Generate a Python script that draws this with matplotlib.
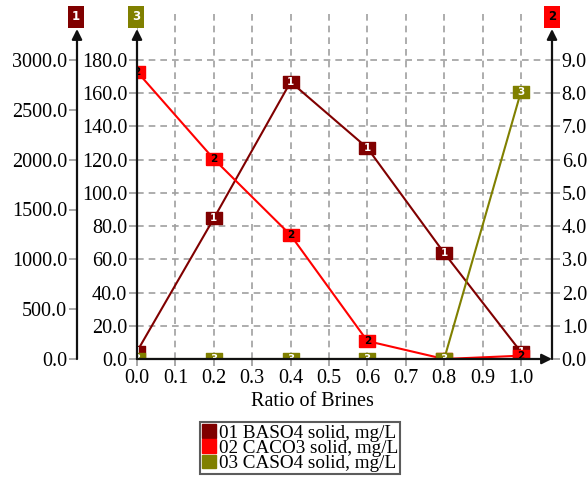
import matplotlib
matplotlib.use('Agg')
import matplotlib.pyplot as plt
from matplotlib.patches import Patch
from matplotlib.ticker import FormatStrFormatter

plt.rcParams['font.family'] = ['Liberation Serif', 'DejaVu Serif']

# data
ratio = [0.0, 0.2, 0.4, 0.6, 0.8, 1.0]
baso4 = [75, 1410, 2780, 2117, 1063, 70]        # axis 1, 0-3000
caco3 = [8.65, 6.02, 3.73, 0.54, 0.0, 0.1]      # axis 2, 0-9
caso4 = [0.0, 0.0, 0.0, 0.0, 0.0, 161.0]        # axis 3, 0-180

names = ['01 BASO4 solid, mg/L', '02 CACO3 solid, mg/L', '03 CASO4 solid, mg/L']
colors = ['#800000', '#ff0000', '#808000']
text_colors = ['white', 'black', 'white']

x_ticks = [i / 10 for i in range(11)]
ticks_3 = list(range(0, 181, 20))
ticks_1 = list(range(0, 3001, 500))
ticks_2 = list(range(0, 10))

W, H = 587, 480
fig = plt.figure(figsize=(W / 100, H / 100), dpi=100)

# pixel layout of the plot box
x0, x1, y0, ytop = 137, 552, 359, 10
px_per_x = 384.0
px_per_y = 299.0 / 180
arrow_top = 29

rect = [x0 / W, (H - y0) / H, (x1 - x0) / W, (y0 - ytop) / H]
ax = fig.add_axes(rect)
ax_1 = ax.twinx()
ax_2 = ax.twinx()
ax_3 = ax.twinx()
for z, a in enumerate([ax, ax_1, ax_2, ax_3]):
    a.set_zorder(z)
    for s in a.spines.values():
        s.set_visible(False)

top3 = (y0 - ytop) / px_per_y
ax.set_xlim(0, (x1 - x0) / px_per_x)
ax.set_ylim(0, top3)
ax_3.set_ylim(0, top3)
ax_1.set_ylim(0, top3 * 3000 / 180)
ax_2.set_ylim(0, top3 * 9 / 180)

fs = 14.5
tick_kw = dict(direction='out', length=6, width=1.2, color='#999999',
               labelcolor='black', labelsize=fs, pad=1)
ax.set_xticks(x_ticks)
ax.xaxis.set_major_formatter(FormatStrFormatter('%.1f'))
ax.tick_params(axis='x', **dict(tick_kw, length=5, pad=2))
ax.set_yticks(ticks_3)
ax.yaxis.set_major_formatter(FormatStrFormatter('%.1f'))
ax.tick_params(axis='y', **tick_kw)
ax.grid(True, color='#a0a0a0', linestyle=(0, (4, 3)), linewidth=1.2)

ax_1.yaxis.tick_left()
ax_1.spines['left'].set_position(('axes', -60 / (x1 - x0)))
ax_1.set_yticks(ticks_1)
ax_1.yaxis.set_major_formatter(FormatStrFormatter('%.1f'))
ax_1.tick_params(axis='y', **tick_kw)

ax_2.set_yticks(ticks_2)
ax_2.yaxis.set_major_formatter(FormatStrFormatter('%.1f'))
ax_2.tick_params(axis='y', **tick_kw)

ax_3.set_yticks([])

# slightly wide box marker
box = [(-8, -6), (8, -6), (8, 6), (-8, 6), (-8, -6)]

# series, each on its own scale
for a, vals, c, tc, num in [(ax_1, baso4, colors[0], text_colors[0], '1'),
                            (ax_2, caco3, colors[1], text_colors[1], '2'),
                            (ax_3, caso4, colors[2], text_colors[2], '3')]:
    a.plot(ratio, vals, color=c, lw=1.5, marker=box, ms=11.5, mec=c, mfc=c)
    for xv, yv in zip(ratio, vals):
        a.text(xv, yv, num, ha='center', va='center', color=tc, fontsize=7.5,
               fontweight='bold', family='DejaVu Sans', clip_on=True)

# axis lines with arrow heads
arr = dict(arrowstyle='-|>', color='#111111', lw=1.6, mutation_scale=15,
           shrinkA=0, shrinkB=0)
yt = (y0 - arrow_top) / (y0 - ytop)
for xa in [0.0, -60 / (x1 - x0), 1.0]:
    ax_3.annotate('', xy=(xa, yt), xytext=(xa, 0), xycoords='axes fraction',
                  textcoords='axes fraction', arrowprops=arr, annotation_clip=False)
ax_3.annotate('', xy=(1.0, 0), xytext=(0, 0), xycoords='axes fraction',
              textcoords='axes fraction', arrowprops=arr, annotation_clip=False)

# axis id boxes
for xp, num, c, tc in [(76, '1', colors[0], 'white'), (136, '3', colors[2], 'white'),
                       (552, '2', colors[1], 'black')]:
    fig.text(xp / W, 1 - 17 / H, num, ha='center', va='center', color=tc,
             fontsize=8.5, fontweight='bold', family='DejaVu Sans',
             bbox=dict(boxstyle='square,pad=0.35', fc=c, ec='none'))

fig.text(312 / W, 1 - 401 / H, 'Ratio of Brines', ha='center', va='center', fontsize=fs)

handles = [Patch(facecolor=c, edgecolor=c) for c in colors]
leg = fig.legend(handles, names, loc='upper center', bbox_to_anchor=(300 / W, 1 - 422 / H),
                 fontsize=13.8, frameon=True, fancybox=False, borderpad=0.12,
                 handlelength=0.7, handleheight=0.7, handletextpad=0.15,
                 labelspacing=-0.12, borderaxespad=0)
leg.get_frame().set_edgecolor('#333333')
leg.get_frame().set_linewidth(1.5)

fig.savefig('out.png', dpi=100)
